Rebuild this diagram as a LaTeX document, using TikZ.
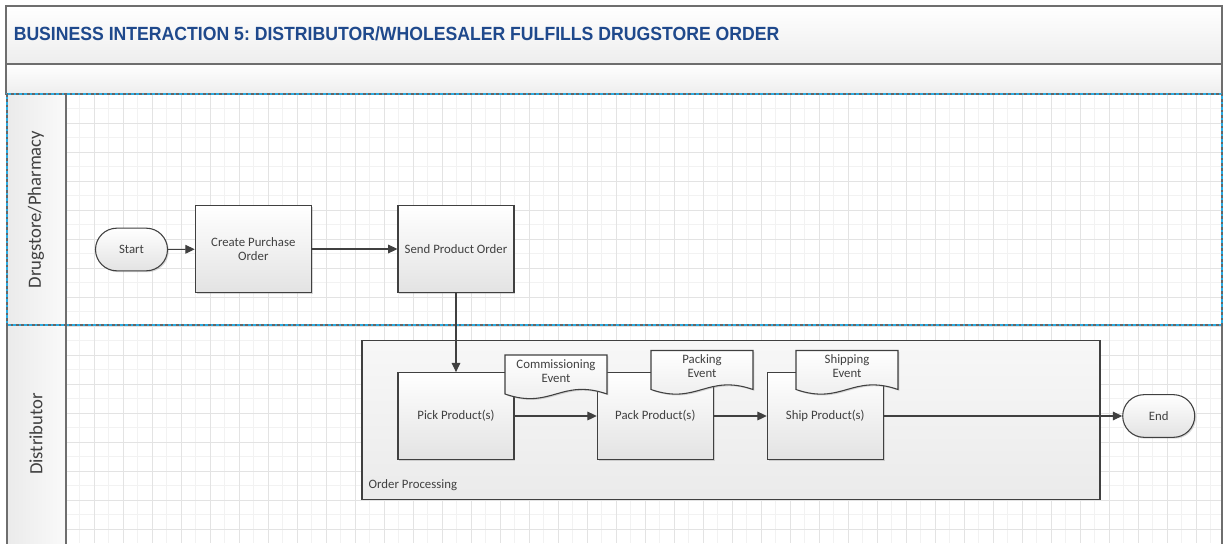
\documentclass[tikz,border=0pt]{standalone}
\usepackage{fontspec}
\setmainfont{Carlito}
\newfontfamily\titlefont[FakeStretch=0.925]{Liberation Sans}
\usetikzlibrary{arrows.meta,shadows}
\definecolor{titleblue}{RGB}{31,73,140}
\definecolor{linegray}{RGB}{64,64,64}
\definecolor{framegray}{RGB}{110,110,110}
\definecolor{laneblue}{RGB}{41,171,226}
\newcommand{\boxw}{87pt}
\newcommand{\boxh}{65pt}
\newcommand{\docw}{102}
\newcommand{\doch}{39}
\newcommand{\eventdoc}[4]{%
    \begin{scope}[shift={(#2,#3)}]
        \path[docshape] (0,0) -- (\docw,0) -- (\docw,\doch)
            .. controls (0.55*\docw,\doch-16) and (0.45*\docw,\doch+16) .. (0,\doch) -- cycle;
        \node[doctext] (#1) at (0.5*\docw,16) {#4};
    \end{scope}}

\tikzset{
    boxfont/.style={font=\fontsize{9.6}{11}\selectfont, text=linegray},
    procbox/.style={boxfont, draw=linegray, line width=0.8pt, top color=white, bottom color=black!11,
        minimum width=\boxw, minimum height=\boxh, align=center, inner sep=2pt,
        drop shadow={shadow xshift=1pt, shadow yshift=-1pt, opacity=0.3}},
    terminal/.style={boxfont, draw=linegray, line width=0.8pt, top color=white, bottom color=black!11,
        minimum width=54pt, minimum height=32pt, rounded corners=16pt,
        drop shadow={shadow xshift=1pt, shadow yshift=-1pt, opacity=0.3}},
    docshape/.style={draw=linegray, line width=0.8pt, top color=white, bottom color=black!8,
        drop shadow={shadow xshift=1pt, shadow yshift=-1pt, opacity=0.3}},
    doctext/.style={boxfont, align=center, inner sep=0pt, font=\fontsize{9.6}{10.5}\selectfont},
    container/.style={draw=linegray, line width=0.8pt, top color=black!3, bottom color=black!8,
        minimum width=553.5pt, minimum height=119.5pt},
    flow/.style={draw=linegray, line width=0.8pt, -{Triangle[length=7pt,width=6.5pt]}},
    gridminor/.style={black!5, line width=0.6pt},
    gridmajor/.style={black!11, line width=0.6pt},
    barfill/.style={top color=white, bottom color=black!7, draw=framegray, line width=0.9pt},
    headfill/.style={left color=black!8, right color=black!2},
    lanedash/.style={black!60, line width=1pt, dash pattern=on 2pt off 2pt}
}

\begin{document}
\frenchspacing
\begin{tikzpicture}[x=0.75pt, y=-0.75pt]
\useasboundingbox (0,0) rectangle (1228,543);
\clip (0,0) rectangle (1228,543);

    %Title bars
    \path[barfill] (6,6) rectangle (1222,64);
    \path[barfill] (6,64) rectangle (1222,94);
    \node[anchor=west, inner sep=0pt, text=titleblue,
        font=\titlefont\bfseries\fontsize{14.3}{16}\selectfont] (title) at (13.5,34)
        {BUSINESS INTERACTION 5: DISTRIBUTOR/WHOLESALER FULFILLS DRUGSTORE ORDER};

    %Grid
    \begin{scope}
        \clip (66,94) rectangle (1222,543);
        \fill[white] (66,94) rectangle (1222,543);
        \foreach\gx in {79.5,108.5,...,1222} {
            \draw[gridminor] (\gx,94) -- (\gx,543);
        }
        \foreach\gy in {108.5,137.5,...,543} {
            \draw[gridminor] (66,\gy) -- (1222,\gy);
        }
        \foreach\gx in {94,123,...,1222} {
            \draw[gridmajor] (\gx,94) -- (\gx,543);
        }
        \foreach\gy in {123,152,...,543} {
            \draw[gridmajor] (66,\gy) -- (1222,\gy);
        }
    \end{scope}

    %Lanes
    \path[headfill] (7,94) rectangle (66,325);
    \path[headfill] (7,325) rectangle (66,560);
    \draw[framegray, line width=0.9pt] (66,94) -- (66,560);
    \draw[framegray, line width=0.9pt] (7,325) -- (7,560);
    \draw[framegray, line width=0.9pt] (1222,325) -- (1222,560);
    \draw[laneblue, line width=1pt] (7,94) rectangle (1222,325);
    \draw[lanedash] (7,94) rectangle (1222,325);
    \node[rotate=90, text=linegray, font=\fontsize{14}{16}\selectfont] (lanepharm) at (36,209.5) {Drugstore/Pharmacy};
    \node[rotate=90, text=linegray, font=\fontsize{14}{16}\selectfont] (lanedist) at (36,434) {Distributor};

    %Order processing
    \node[container] (orderproc) at (731,419.7) {};
    \node[boxfont, anchor=west] (oplabel) at (364,485) {Order Processing};

    %Steps
    \node[terminal] (start) at (131.5,249.5) {Start};
    \node[procbox] (create) at (253.3,249) {Create Purchase\\Order};
    \node[procbox] (send) at (456,249) {Send Product Order};
    \node[procbox] (pick) at (456,416) {Pick Product(s)};
    \node[procbox] (pack) at (655.3,416) {Pack Product(s)};
    \node[procbox] (ship) at (825.3,416) {Ship Product(s)};
    \node[terminal] (finish) at (1158.7,416) {End};

    \draw[flow] (start) -- (create);
    \draw[flow] (create) -- (send);
    \draw[flow] (send) -- (pick);
    \draw[flow] (pick) -- (pack);
    \draw[flow] (pack) -- (ship);
    \draw[flow] (ship) -- (finish);

    %Events
    \eventdoc{commev}{505}{355}{Commissioning\\Event}
    \eventdoc{packev}{651}{350.5}{Packing\\Event}
    \eventdoc{shipev}{796}{350.5}{Shipping\\Event}

\end{tikzpicture}
\end{document}
